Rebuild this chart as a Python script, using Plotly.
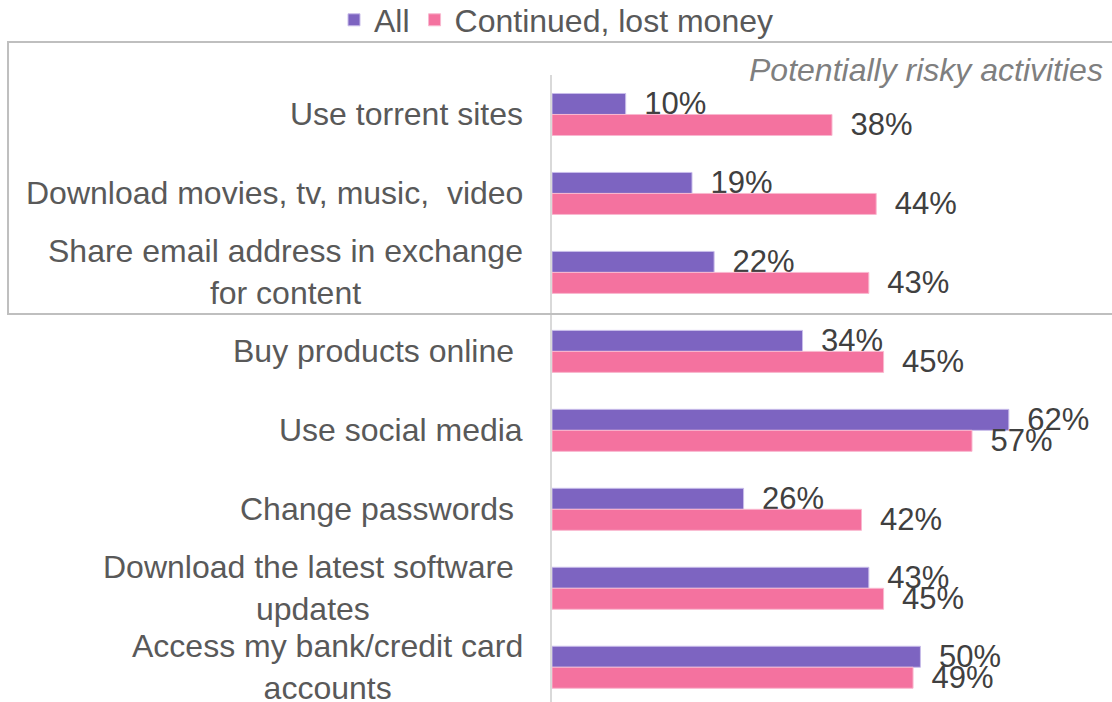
import plotly.graph_objects as go

categories = [
    "Use torrent sites",
    "Download movies, tv, music,  video",
    "Share email address in exchange<br>for content",
    "Buy products online ",
    "Use social media",
    "Change passwords ",
    "Download the latest software <br>updates",
    "Access my bank/credit card<br>accounts",
]
all_values = [10, 19, 22, 34, 62, 26, 43, 50]
lost_values = [38, 44, 43, 45, 57, 42, 45, 49]
series_names = ["All", "Continued, lost money"]

FONT = "Liberation Sans, Arial, sans-serif"
PURPLE = "#7d64c1"
PINK = "#f4729f"
FS = 31
LFS = 32

fig = go.Figure()
for name, vals, col, edge in [
    (series_names[0], all_values, PURPLE, "#c9bdea"),
    (series_names[1], lost_values, PINK, "#f9b8cf"),
]:
    fig.add_trace(go.Bar(
        y=categories, x=vals, name=name, orientation="h",
        marker=dict(color=col, line=dict(color=edge, width=1)),
        text=["\u2002" + f"{v}%" for v in vals],
        textposition="outside", constraintext="none", cliponaxis=False,
        textfont=dict(family=FONT, size=FS, color="#404040"),
    ))

# category labels (centered multi-line, right aligned block)
for c in categories:
    fig.add_annotation(
        x=-0.0482, xref="paper", y=c, yref="y", text=c,
        xanchor="right", yanchor="middle", align="center", showarrow=False,
        font=dict(family=FONT, size=LFS, color="#595959"),
    )

fig.add_annotation(
    x=0.9875, xref="paper", y=1.008, yref="paper",
    text="<i>Potentially risky activities</i>", showarrow=False,
    xanchor="right", yanchor="middle",
    font=dict(family=FONT, size=32, color="#7f7f7f"),
)

fig.add_shape(
    type="rect", xref="paper", yref="paper",
    x0=-0.9714, x1=1.02, y0=0.6188, y1=1.0526,
    line=dict(color="#bfbfbf", width=2), fillcolor="rgba(0,0,0,0)",
)

fig.update_layout(
    width=1112, height=702,
    margin=dict(l=552, r=0, t=75, b=0),
    barmode="group", bargap=0.468, bargroupgap=0,
    plot_bgcolor="white", paper_bgcolor="white",
    font=dict(family=FONT, size=FS, color="#595959"),
    showlegend=True,
    legend=dict(
        orientation="h", xref="container", yref="container",
        x=0.5, xanchor="center", y=0.9715, yanchor="middle",
        font=dict(family=FONT, size=LFS, color="#595959"),
        traceorder="normal", bgcolor="rgba(0,0,0,0)",
    ),
    xaxis=dict(range=[0, 76], visible=False, showgrid=False, zeroline=False),
    yaxis=dict(
        range=[7.44, -0.5], showticklabels=False, ticks="",
        showline=True, linecolor="#d9d9d9", linewidth=2,
        showgrid=False, zeroline=False,
    ),
)

fig.write_html(
    "out.html",
    config={"displayModeBar": False},
    post_script="document.body.style.margin='0';document.body.style.overflow='hidden';",
)
